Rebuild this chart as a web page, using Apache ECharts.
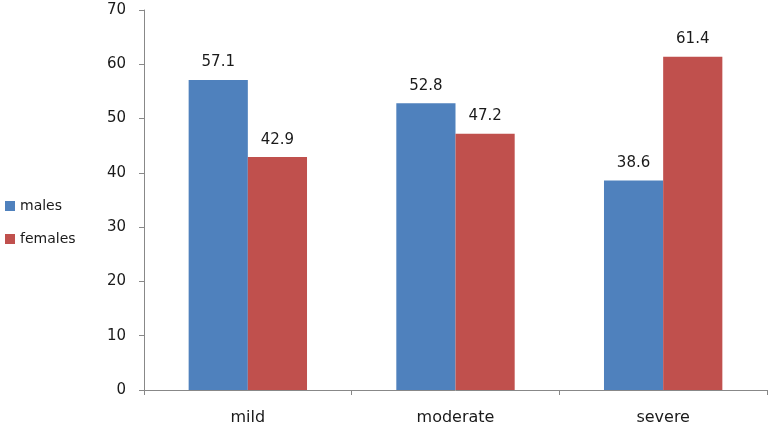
<!DOCTYPE html>
<html><head><meta charset="utf-8">
<script src="https://cdn.jsdelivr.net/npm/echarts@6/dist/echarts.min.js"></script>
<style>html,body{margin:0;padding:0;background:#fff}#c{width:774px;height:430px}</style>
</head><body><div id="c"></div>
<script>
const categories = ['mild', 'moderate', 'severe'];
const males = [57.1, 52.8, 38.6];
const females = [42.9, 47.2, 61.4];
const yTicks = { min: 0, max: 70, interval: 10 };

const chart = echarts.init(document.getElementById('c'));
const font = 'DejaVu Sans';
chart.setOption({
  animation: false,
  textStyle: { fontFamily: font },
  grid: { left: 144, right: 7, top: 10, bottom: 40 },
  legend: {
    orient: 'vertical', left: 0, top: 194, itemWidth: 10, itemHeight: 10, itemGap: 19,
    icon: 'rect',
    textStyle: { fontFamily: font, fontSize: 14, color: '#1a1a1a' },
    data: ['males', 'females']
  },
  xAxis: {
    type: 'category', data: categories,
    axisLine: { lineStyle: { color: '#888', width: 1 } },
    axisTick: { show: true, length: 5, lineStyle: { color: '#888' } },
    axisLabel: { fontFamily: font, fontSize: 16, color: '#1a1a1a', margin: 20 }
  },
  yAxis: {
    type: 'value', min: yTicks.min, max: yTicks.max, interval: yTicks.interval,
    splitLine: { show: false },
    axisLine: { show: true, lineStyle: { color: '#888', width: 1 } },
    axisTick: { show: true, length: 5, lineStyle: { color: '#888' } },
    axisLabel: { fontFamily: font, fontSize: 15, color: '#1a1a1a', margin: 18 }
  },
  series: [
    { name: 'males', type: 'bar', data: males, barGap: '0%', barCategoryGap: '43%',
      itemStyle: { color: '#4F81BD' },
      label: { show: true, position: 'top', distance: 10, fontFamily: font, fontSize: 15, color: '#1a1a1a' } },
    { name: 'females', type: 'bar', data: females, barGap: '0%', barCategoryGap: '43%',
      itemStyle: { color: '#C0504D' },
      label: { show: true, position: 'top', distance: 10, fontFamily: font, fontSize: 15, color: '#1a1a1a' } }
  ]
});
</script></body></html>
